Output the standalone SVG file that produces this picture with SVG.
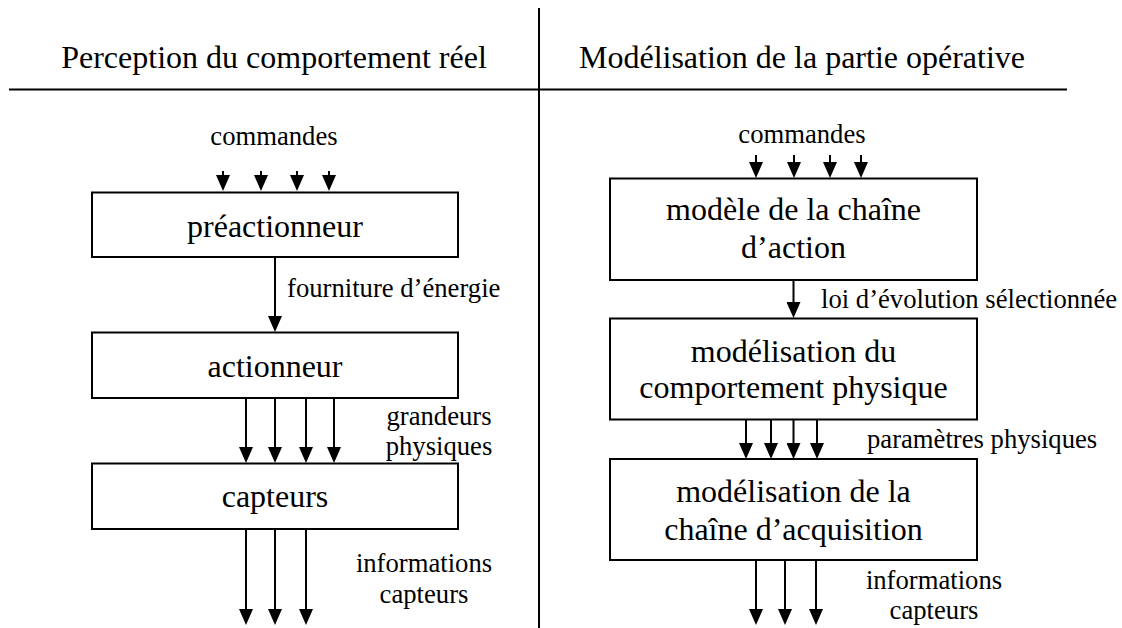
<svg xmlns="http://www.w3.org/2000/svg" width="1122" height="628" viewBox="0 0 1122 628">
<defs>
<style>
text{font-family:"Liberation Serif","Times New Roman",serif;fill:#000}
.t{font-size:32px}
.b{font-size:32px}
.l{font-size:26.67px}
.m{text-anchor:middle}
.box{fill:#fff;stroke:#000;stroke-width:2}
.ln{stroke:#000;stroke-width:2;fill:none}
.ar{stroke:#000;stroke-width:2;fill:none;marker-end:url(#ah)}
</style>
<marker id="ah" markerUnits="userSpaceOnUse" viewBox="0 0 16 14" markerWidth="16" markerHeight="14" refX="12" refY="7" orient="auto">
<path d="M0,0 L16,7 L0,14 z" fill="#000"/>
</marker>
</defs>
<rect width="1122" height="628" fill="#fff"/>

<g id="frame">
<line class="ln" x1="539" y1="8" x2="539" y2="628"/>
<line class="ln" x1="9" y1="89.5" x2="1067" y2="89.5"/>
<text class="t m" x="274" y="68">Perception du comportement réel</text>
<text class="t m" x="802" y="68">Modélisation de la partie opérative</text>
</g>

<g id="connectors">
<line class="ar" x1="223" y1="171" x2="223" y2="187"/>
<line class="ar" x1="261" y1="171" x2="261" y2="187"/>
<line class="ar" x1="297" y1="171" x2="297" y2="187"/>
<line class="ar" x1="329" y1="171" x2="329" y2="187"/>
<line class="ar" x1="275" y1="257" x2="275" y2="328"/>
<line class="ar" x1="246" y1="398" x2="246" y2="459"/>
<line class="ar" x1="275" y1="398" x2="275" y2="459"/>
<line class="ar" x1="306" y1="398" x2="306" y2="459"/>
<line class="ar" x1="334" y1="398" x2="334" y2="459"/>
<line class="ar" x1="246" y1="529" x2="246" y2="621"/>
<line class="ar" x1="275" y1="529" x2="275" y2="621"/>
<line class="ar" x1="306" y1="529" x2="306" y2="621"/>
<line class="ar" x1="756" y1="155" x2="756" y2="174"/>
<line class="ar" x1="794" y1="155" x2="794" y2="174"/>
<line class="ar" x1="830" y1="155" x2="830" y2="174"/>
<line class="ar" x1="861" y1="155" x2="861" y2="174"/>
<line class="ar" x1="793.5" y1="280" x2="793.5" y2="314"/>
<line class="ar" x1="746" y1="419" x2="746" y2="455"/>
<line class="ar" x1="771" y1="419" x2="771" y2="455"/>
<line class="ar" x1="793.5" y1="419" x2="793.5" y2="455"/>
<line class="ar" x1="817" y1="419" x2="817" y2="455"/>
<line class="ar" x1="756" y1="560" x2="756" y2="621"/>
<line class="ar" x1="785" y1="560" x2="785" y2="621"/>
<line class="ar" x1="816" y1="560" x2="816" y2="621"/>
</g>

<g id="labels">
<text class="l m" x="274" y="145">commandes</text>
<text class="l" x="287" y="297">fourniture d’énergie</text>
<text class="l m" x="439" y="425">grandeurs</text>
<text class="l m" x="439" y="455">physiques</text>
<text class="l m" x="424" y="572">informations</text>
<text class="l m" x="424" y="603">capteurs</text>
<text class="l m" x="802" y="143">commandes</text>
<text class="l" x="821" y="308">loi d’évolution sélectionnée</text>
<text class="l" x="867" y="448">paramètres physiques</text>
<text class="l m" x="934" y="589">informations</text>
<text class="l m" x="934" y="619">capteurs</text>
</g>

<g id="preactionneur">
<rect class="box" x="92" y="192.5" width="366" height="64.5"/>
<text class="b m" x="275" y="237">préactionneur</text>
</g>
<g id="actionneur">
<rect class="box" x="92" y="332.5" width="366" height="65.5"/>
<text class="b m" x="275" y="377">actionneur</text>
</g>
<g id="capteurs">
<rect class="box" x="92" y="463.5" width="366" height="65.5"/>
<text class="b m" x="275" y="507">capteurs</text>
</g>

<g id="modele-chaine-action">
<rect class="box" x="610" y="178.5" width="367" height="101.5"/>
<text class="b m" x="793.5" y="220">modèle de la chaîne</text>
<text class="b m" x="793.5" y="258">d’action</text>
</g>
<g id="modelisation-comportement">
<rect class="box" x="610" y="318.5" width="367" height="101"/>
<text class="b m" x="793.5" y="362">modélisation du</text>
<text class="b m" x="793.5" y="398">comportement physique</text>
</g>
<g id="modelisation-acquisition">
<rect class="box" x="610" y="459" width="367" height="101"/>
<text class="b m" x="793.5" y="502">modélisation de la</text>
<text class="b m" x="793.5" y="540">chaîne d’acquisition</text>
</g>
</svg>
